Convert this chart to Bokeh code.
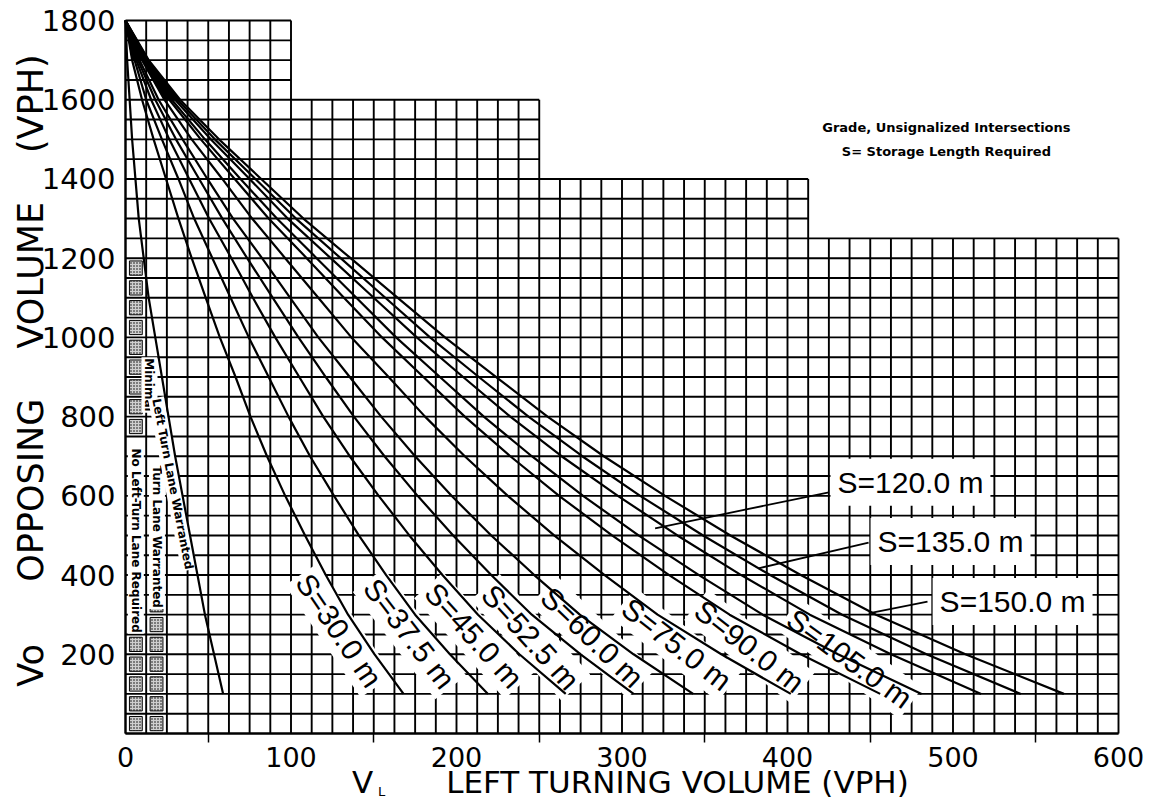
import math
from bokeh.plotting import figure
from bokeh.models import Range1d, FixedTicker, Label
from bokeh.embed import file_html
from bokeh.resources import INLINE

VO = [1800, 1700, 1600, 1500, 1400, 1300, 1200, 1100, 1000, 900, 800, 700, 600, 500, 400, 300, 200, 100]

VL_WARRANT = [0, 1, 2.5, 4, 6, 8, 11, 14, 18, 22, 26, 30, 34.5, 39, 43.5, 48, 53.5, 59]
VL_S30 = [0, 4, 10, 17, 24.5, 32, 40, 48.5, 57, 66.5, 75.5, 85.5, 96.5, 108.5, 121, 134.5, 150.5, 168]
VL_S375 = [0, 5.5, 12.5, 22, 32, 41.5, 52.5, 63.5, 74.5, 86.5, 98.5, 111.5, 126, 141, 157.5, 175, 196, 219]
VL_S45 = [0, 6.5, 15.5, 26.5, 38.5, 50.5, 64, 77, 90.5, 105, 119.5, 135.5, 153, 171.5, 191.5, 213, 238, 266]
VL_S525 = [0, 7.5, 18, 30.5, 44.5, 58.5, 73.5, 89, 104.5, 121, 138, 156.5, 176.5, 198, 221, 245.5, 275, 307]
VL_S60 = [0, 8.5, 20, 34.5, 49.5, 65, 82.5, 99.5, 116.5, 135.5, 154.5, 175, 197, 221, 247, 274.5, 307, 343]
VL_S75 = [0, 10, 23.5, 40, 58.5, 76.5, 96.5, 116.5, 136.5, 159, 181, 205, 231, 259, 289.5, 321.5, 360, 402]
VL_S90 = [0, 11.5, 26.5, 45.5, 66, 86.5, 109.5, 132, 155, 180, 205, 232.5, 262, 294, 328.5, 365, 408, 456]
VL_S105 = [0, 12, 28, 48, 69.5, 91.5, 115.5, 139.5, 163.5, 190, 216.5, 245.5, 276.5, 310, 346.5, 385, 430.5, 481]
VL_S120 = [0, 13, 30, 51.5, 75, 98, 124, 150, 176, 204, 232.5, 263.5, 297.5, 333.5, 372, 413.5, 462.5, 517]
VL_S135 = [0, 13.5, 31.5, 54, 78.5, 103, 130, 157, 184, 213.5, 243.5, 276, 311, 349, 389.5, 433, 484, 541]
VL_S150 = [0, 14, 33, 56.5, 82, 107.5, 136, 164.5, 193, 224, 255, 289, 326, 365.5, 408, 453.5, 507.5, 567]

CURVES = [VL_WARRANT, VL_S30, VL_S375, VL_S45, VL_S525, VL_S60, VL_S75,
          VL_S90, VL_S105, VL_S120, VL_S135, VL_S150]

X_TICKS = [0, 100, 200, 300, 400, 500, 600]
X_MINOR = [50, 150, 250, 350, 450, 550]
Y_TICKS = [200, 400, 600, 800, 1000, 1200, 1400, 1600, 1800]

# stepped grid outline
STEP_X = [0, 100, 250, 412.5, 600]
STEP_TOP = [1800, 1600, 1400, 1250]
CELL_W = 12.5
CELL_H = 50

# rotated curve labels
ROT_TEXT = ["S=30.0 m", "S=37.5 m", "S=45.0 m", "S=52.5 m", "S=60.0 m",
            "S=75.0 m", "S=90.0 m", "S=105.0 m"]
ROT_X = [129, 171.6, 210.5, 244.7, 282, 333, 377, 437.5]
ROT_Y = [260, 252, 247.5, 243, 243, 225, 220, 189]
ROT_ANGLE = [-56, -52.5, -48, -48, -44, -38, -38, -36]

# boxed labels with pointers
BOX_TEXT = ["S=120.0 m", "S=135.0 m", "S=150.0 m"]
BOX_X = [474.3, 498.5, 536]
BOX_Y = [634, 485, 333]
PTR_X0 = [425, 449, 484.6]
PTR_Y0 = [609, 482, 333]
PTR_X1 = [320, 382.5, 449]
PTR_Y1 = [518, 417, 303]

# hatched cells in the two leftmost columns (row bottoms)
HATCH_COL0_ROWS = [0, 50, 100, 150, 200, 750, 800, 850, 900, 950, 1000, 1050, 1100, 1150]
HATCH_COL1_ROWS = [0, 50, 100, 150, 200, 250, 300]

NOTE_1 = "Grade, Unsignalized Intersections"
NOTE_2 = "S= Storage Length Required"

# ---------------- figure (frame spans the whole canvas) ----------------
W, H = 1150, 800
PX_X = 1.655      # pixels per VPH (x)
PX_Y = 0.3961     # pixels per VPH (y)
X0_PX = 125       # pixel column of V_L = 0
Y0_PX = 733       # pixel row of Vo = 0

x_start = -X0_PX / PX_X
x_end = (W - X0_PX) / PX_X
y_start = -(H - Y0_PX) / PX_Y
y_end = Y0_PX / PX_Y

p = figure(width=W, height=H,
           x_range=Range1d(x_start, x_end), y_range=Range1d(y_start, y_end),
           output_backend="svg", toolbar_location=None,
           min_border=0, min_border_left=0, min_border_right=0,
           min_border_top=0, min_border_bottom=0)
p.outline_line_color = None
p.xgrid.visible = False
p.ygrid.visible = False
p.background_fill_color = "white"
p.border_fill_color = "white"

# grid
gxs, gys = [], []
n_v = int(round(STEP_X[-1] / CELL_W)) + 1
for i in range(n_v):
    x = i * CELL_W
    top = max(STEP_TOP[k] for k in range(len(STEP_TOP)) if STEP_X[k] <= x <= STEP_X[k + 1])
    gxs.append([x, x])
    gys.append([0, top])
n_h = int(round(STEP_TOP[0] / CELL_H)) + 1
for j in range(n_h):
    y = j * CELL_H
    k = sum(1 for t in STEP_TOP if t >= y)
    gxs.append([0, STEP_X[k]])
    gys.append([y, y])
p.multi_line(gxs, gys, line_color="black", line_width=1.9)

# hatched cells
hx = [CELL_W / 2] * len(HATCH_COL0_ROWS) + [CELL_W * 1.5] * len(HATCH_COL1_ROWS)
hy = [r + CELL_H / 2 for r in HATCH_COL0_ROWS] + [r + CELL_H / 2 for r in HATCH_COL1_ROWS]
p.rect(hx, hy, width=CELL_W * 0.62, height=CELL_H * 0.72,
       fill_color="#cfcfcf", line_color="black", line_width=1,
       hatch_pattern="dot", hatch_color="black", hatch_scale=3, hatch_weight=1)

# solid black wedge where the curves merge near the apex
wedge_x = VL_S150[0:3] + [VL_S75[2], VL_S75[1], VL_S30[1]]
wedge_y = VO[0:3] + [VO[2], VO[1], VO[1]]
p.patch(wedge_x, wedge_y, fill_color="black", line_color="black", line_width=1, level="overlay")

# curves (above label backgrounds)
for vl in CURVES:
    p.line(vl, VO, line_color="black", line_width=2.2, level="overlay")

# pointers
for i in range(len(BOX_TEXT)):
    p.line([PTR_X0[i], PTR_X1[i]], [PTR_Y0[i], PTR_Y1[i]],
           line_color="black", line_width=1.8, level="overlay")

# rotated S labels
for t, x, y, a in zip(ROT_TEXT, ROT_X, ROT_Y, ROT_ANGLE):
    p.add_layout(Label(x=x, y=y, text=t, angle=math.radians(a),
                       text_align="center", text_baseline="middle",
                       text_font="Liberation Sans", text_font_size="30px",
                       text_color="black", background_fill_color="white",
                       padding=3))

# boxed S labels
for t, x, y in zip(BOX_TEXT, BOX_X, BOX_Y):
    p.add_layout(Label(x=x, y=y, text=t,
                       text_align="center", text_baseline="middle",
                       text_font="Liberation Sans", text_font_size="30px",
                       text_color="black", background_fill_color="white",
                       padding=7))

# small region texts in the left columns
SMALL = [("No Left-Turn Lane Required", 6.25, 487, -90),
         ("Minimal", 14.5, 880, -90),
         ("Turn Lane Warranted", 19.0, 497, -90),
         ("Left Turn Lane Warranted", 28.5, 630, -79)]
for t, x, y, a in SMALL:
    p.add_layout(Label(x=x, y=y, text=t, angle=math.radians(a),
                       text_align="center", text_baseline="middle",
                       text_font="DejaVu Sans", text_font_size="12px",
                       text_font_style="bold",
                       text_color="black", background_fill_color="white",
                       padding=1))

# notes
p.add_layout(Label(x=496, y=1530, text=NOTE_1, text_align="center", text_baseline="middle",
                   text_font="DejaVu Sans", text_font_size="13px", text_font_style="bold",
                   text_color="black"))
p.add_layout(Label(x=496, y=1470, text=NOTE_2, text_align="center", text_baseline="middle",
                   text_font="DejaVu Sans", text_font_size="13px", text_font_style="bold",
                   text_color="black"))

# axes, fixed at the data origin inside the frame
p.xaxis.fixed_location = 0
p.yaxis.fixed_location = 0
p.xaxis.bounds = (0, 600)
p.yaxis.bounds = (0, 1800)
p.xaxis.ticker = FixedTicker(ticks=X_TICKS, minor_ticks=X_MINOR)
p.yaxis.ticker = FixedTicker(ticks=Y_TICKS, minor_ticks=[])
for ax in (p.xaxis, p.yaxis):
    ax.axis_line_color = "black"
    ax.axis_line_width = 2
    ax.major_tick_out = 0
    ax.major_tick_in = 0
    ax.major_label_text_font = "DejaVu Sans"
    ax.major_label_text_color = "black"
p.yaxis.major_label_text_font_size = "29px"
p.xaxis.major_label_text_font_size = "27px"
p.xaxis.minor_tick_out = 9
p.xaxis.minor_tick_in = 0
p.xaxis.minor_tick_line_color = "black"
p.xaxis.minor_tick_line_width = 1.5
p.yaxis.minor_tick_line_color = None
p.xaxis.major_label_standoff = 4
p.yaxis.major_label_standoff = 10

# axis titles
Y_TITLE_WORDS = ["Vo", "OPPOSING", "VOLUME", "(VPH)"]
Y_TITLE_POS = [172, 614, 1157, 1590]
for w, y in zip(Y_TITLE_WORDS, Y_TITLE_POS):
    p.add_layout(Label(x=-56.8, y=y, text=w, angle=math.pi / 2,
                       text_align="center", text_baseline="middle",
                       text_font="DejaVu Sans", text_font_size="35px",
                       text_color="black"))

X_TITLE_Y = -121.2
p.add_layout(Label(x=143.2, y=X_TITLE_Y, text="V", text_align="center", text_baseline="middle",
                   text_font="DejaVu Sans", text_font_size="31px", text_color="black"))
p.add_layout(Label(x=154.7, y=-146.4, text="L", text_align="center", text_baseline="middle",
                   text_font="DejaVu Sans", text_font_size="13px", text_color="black"))
p.add_layout(Label(x=333.5, y=X_TITLE_Y, text="LEFT TURNING VOLUME (VPH)",
                   text_align="center", text_baseline="middle",
                   text_font="DejaVu Sans", text_font_size="31px", text_color="black"))

open("out.html", "w").write(file_html(p, INLINE))
